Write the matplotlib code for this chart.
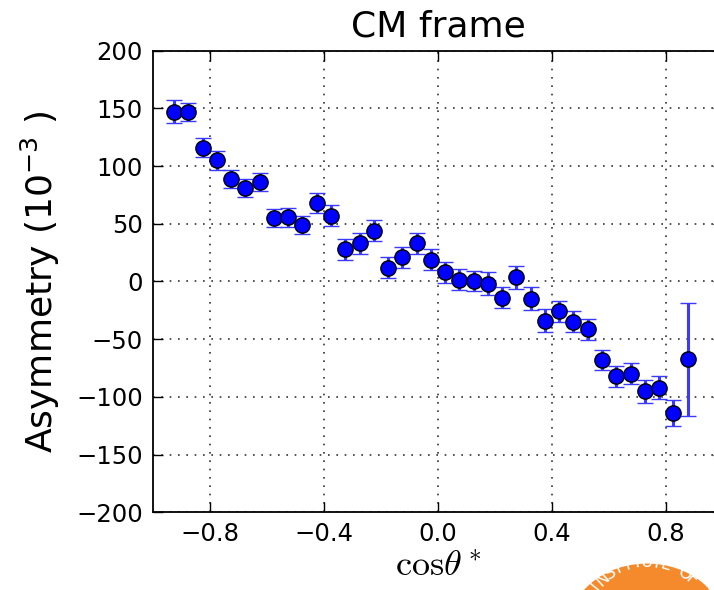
import numpy as np
import matplotlib
matplotlib.use('Agg')
import matplotlib.pyplot as plt
from matplotlib.patches import Circle

# Bin centres in cos(theta*) and the measured asymmetry (units of 1e-3)
cos_theta = [-0.925, -0.875, -0.825, -0.775, -0.725, -0.675, -0.625, -0.575,
             -0.525, -0.475, -0.425, -0.375, -0.325, -0.275, -0.225, -0.175,
             -0.125, -0.075, -0.025, 0.025, 0.075, 0.125, 0.175, 0.225,
             0.275, 0.325, 0.375, 0.425, 0.475, 0.525, 0.575, 0.625,
             0.675, 0.725, 0.775, 0.825, 0.875]
asym = [147, 147, 116, 105, 89, 81, 86, 55,
        55.5, 49, 68, 57, 28, 33, 44, 12,
        21, 33, 19, 8, 1.5, 0.5, -2, -14,
        3.5, -15, -34, -26, -35, -41.5, -68, -82,
        -80, -95, -92, -114, -67.5]
asym_err = [10, 8, 8, 8, 8, 8, 8, 8,
            8, 8, 9, 9, 9, 9, 9, 9,
            9, 9, 9, 9, 9, 9, 10, 9,
            10, 10, 10, 9, 9, 9, 9, 9,
            9, 10, 10, 11, 49]

x_ticks = [-0.8, -0.4, 0.0, 0.4, 0.8]
y_ticks = [-200, -150, -100, -50, 0, 50, 100, 150, 200]

fig = plt.figure(figsize=(7.14, 5.9), dpi=100, facecolor='white')
# axes runs slightly past the right edge of the figure
ax = fig.add_axes([0.2139, 0.1317, 0.7990, 0.7824])

ax.errorbar(cos_theta, asym, yerr=asym_err, fmt='o', color='#0000ff',
            ecolor='#3a3aff', elinewidth=2.2, capsize=6, capthick=1,
            markersize=11, markeredgecolor='black', markeredgewidth=1,
            zorder=3)

ax.set_xlim(-1.0, 1.0)
ax.set_ylim(-200, 200)
ax.set_xticks(x_ticks)
ax.set_yticks(y_ticks)
ax.set_xticklabels(['\u22120.8', '\u22120.4', '0.0', '0.4', '0.8'])
ax.grid(True, color='black', linestyle=(0, (1, 4)), linewidth=1.2, alpha=0.8)
ax.tick_params(direction='in', length=7, width=1, labelsize=17.5, pad=7,
               top=True, right=True)
for s in ax.spines.values():
    s.set_linewidth(1.3)

ax.set_title('CM frame', fontsize=26, pad=10)
ax.set_xlabel(r'$\mathrm{cos}\theta^*$', fontsize=26, math_fontfamily='cm',
              labelpad=2)
ax.set_ylabel('Asymmetry (10$^{-3}$ )', fontsize=26, labelpad=10)

# seal in the lower right corner, mostly outside the figure
W, H = 714.0, 590.0
cx, cy, r = 647.0, 628.0, 78.0
seal = Circle((cx / W, 1 - cy / H), r / W, transform=fig.transFigure,
              facecolor='#f58a2c', edgecolor='none', zorder=0)
fig.patches.append(seal)
fig.patches[-1].set_figure(fig)
seal_text = 'A INSTITUTE OF TEC'
rt = 66.0
for i, ch in enumerate(seal_text):
    a = 90 + 8.5 * (8 - i)
    px = cx + rt * np.cos(np.radians(a))
    py = cy - rt * np.sin(np.radians(a))
    fig.text(px / W, 1 - py / H, ch, color='white', fontsize=12,
             rotation=a - 90, ha='center', va='center')

fig.savefig('out.png', dpi=100, facecolor='white')
